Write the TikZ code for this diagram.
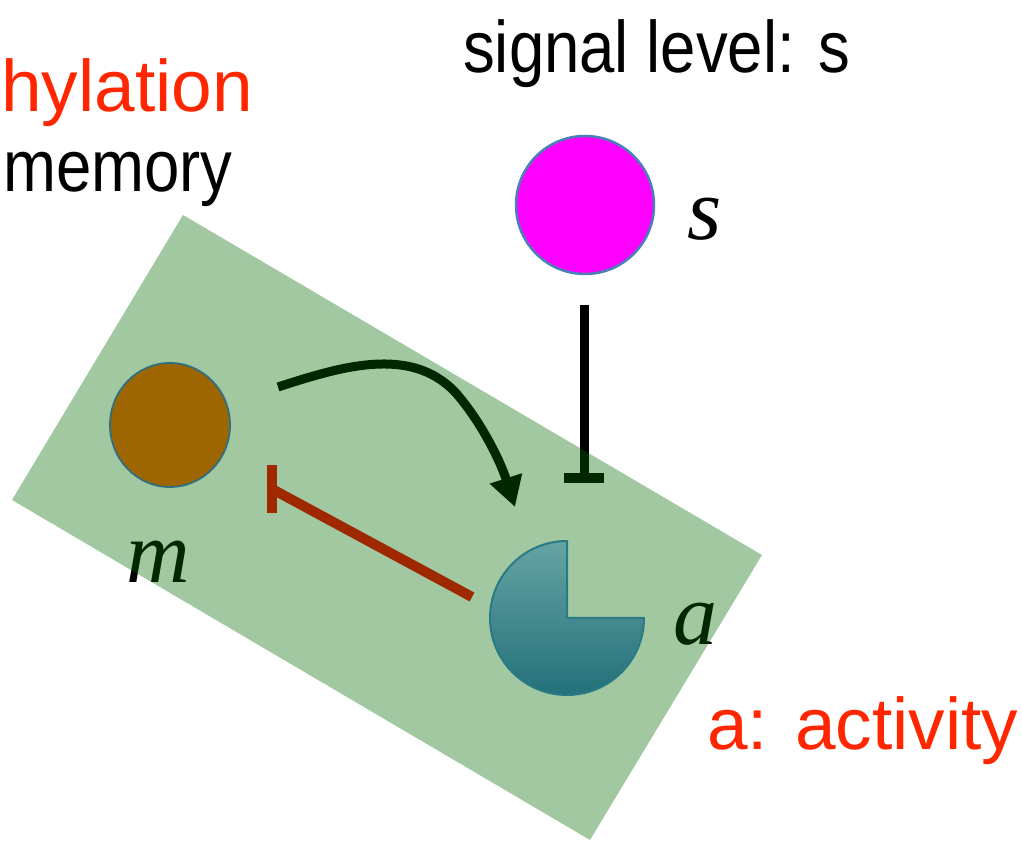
\documentclass[tikz,border=0pt]{standalone}
\usepackage{fontspec}
\usepackage{graphicx}
\usetikzlibrary{arrows.meta,shapes.geometric}
\newfontfamily\sansf{Liberation Sans}
\newfontfamily\serf{Liberation Serif}
\definecolor{redtxt}{RGB}{255,38,0}
\definecolor{overlaygreen}{RGB}{0,107,0}
\definecolor{brownfill}{RGB}{158,102,0}
\definecolor{brownedge}{RGB}{47,111,128}
\definecolor{pinkfill}{RGB}{255,0,255}
\definecolor{pinkedge}{RGB}{74,127,184}
\definecolor{pactop}{RGB}{102,163,163}
\definecolor{pacbot}{RGB}{35,113,122}
\definecolor{pacedge}{RGB}{42,122,133}
\definecolor{inhred}{RGB}{158,40,0}
\tikzset{
  bigsans/.style={font=\sansf\fontsize{73}{80}\selectfont, inner sep=0pt, anchor=base west},
  varlabel/.style={font=\serf\itshape\fontsize{88}{96}\selectfont, inner sep=0pt, anchor=base west},
  inhline/.style={line width=9pt},
}
\begin{document}
\begin{tikzpicture}[x=1pt,y=1pt]
\useasboundingbox (0,0) rectangle (1022,842);
% texts
\node[bigsans, text=black] (sig) at (463,769) {\scalebox{0.87}[1]{signal level: s}};
\node[bigsans, text=redtxt] (hyl) at (1,730) {hylation};
\node[bigsans, text=black] (mem) at (3,650) {\scalebox{0.87}[1]{memory}};
\node[bigsans, text=redtxt] (act) at (707,92) {a: activity};
% signal node
\node[circle, minimum size=138pt, inner sep=0pt, fill=pinkfill, draw=pinkedge, line width=2.5pt] (s) at (585,637) {};
\node[varlabel] (slab) at (687,602) {s};
% connector endpoints
\coordinate (sEnd) at (584,537);
\coordinate (sBar) at (584,364);
\coordinate (mOut) at (278,455);
\coordinate (aIn) at (515,335);
\coordinate (aOut) at (472,245);
\coordinate (mBar) at (272,353);
% items under the green overlay
\draw[inhline, black] (sEnd) -- (sBar);
\draw[line width=10pt, black] ([xshift=-20pt]sBar) -- ([xshift=20pt]sBar);
\draw[line width=9pt, black, -{Triangle[length=30pt,width=32pt]}]
  (mOut) .. controls (340,475) and (410,497) .. (455,450) .. controls (480,422) and (500,382) .. (aIn);
\node[varlabel, text=black] (mlab) at (126,259) {m};
\node[varlabel, text=black] (alab) at (673,197) {a};
% green box
\fill[overlaygreen, fill opacity=0.37] (183,627) -- (762,287) -- (590,2) -- (12,342) -- cycle;
% memory node
\node[ellipse, minimum width=120pt, minimum height=124pt, inner sep=0pt, fill=brownfill, draw=brownedge, line width=1.8pt] (m) at (170,417) {};
% activity node (pacman)
\coordinate (a) at (567,224);
\shadedraw[top color=pactop, bottom color=pacbot, draw=pacedge, line width=2pt, line join=round]
  (a) -- ++(0,77) arc[start angle=90, end angle=360, radius=77] -- cycle;
% red inhibition
\draw[line width=10pt, inhred] (aOut) -- (mBar);
\draw[line width=10pt, inhred] ([yshift=-24pt]mBar) -- ([yshift=24pt]mBar);
\end{tikzpicture}
\end{document}
